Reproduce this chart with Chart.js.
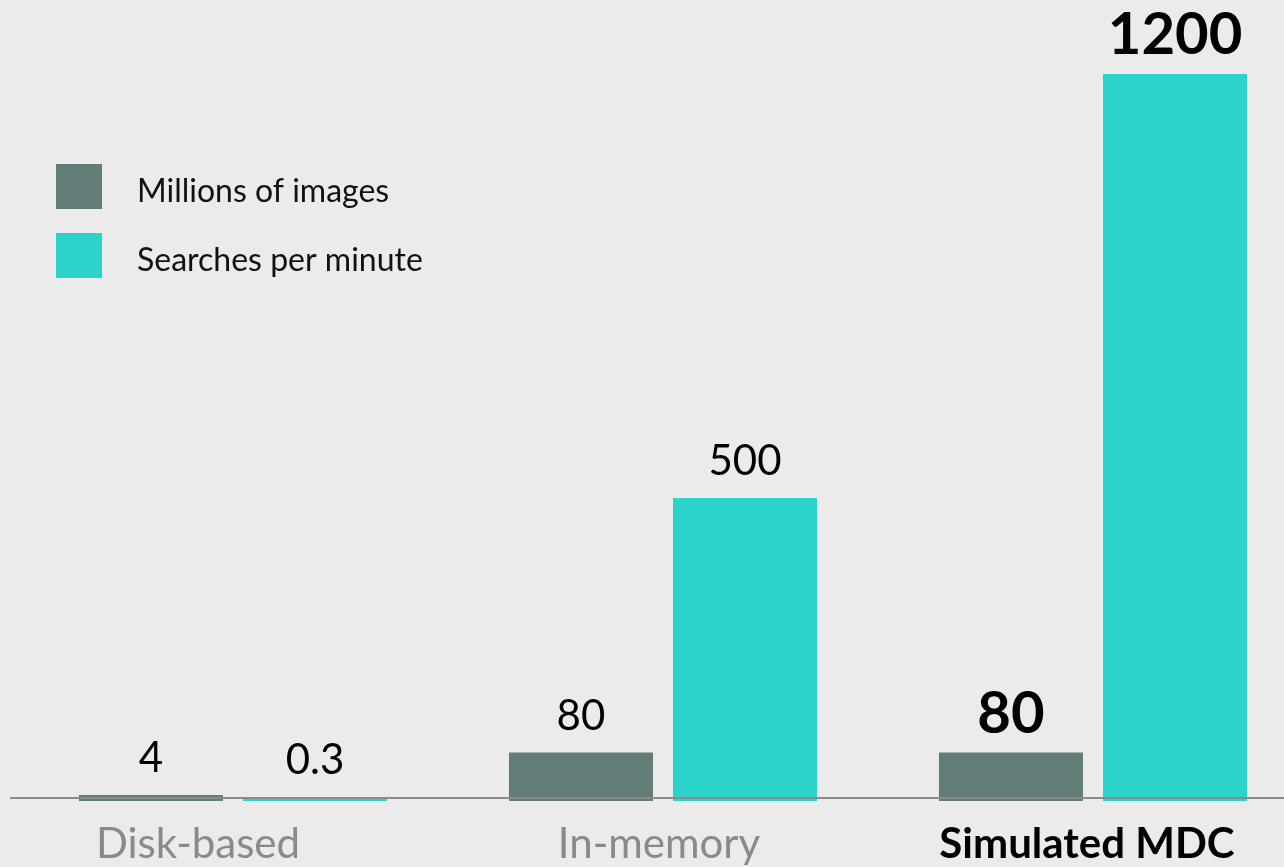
<!DOCTYPE html>
<html>
<head>
<meta charset="utf-8">
<script src="https://cdn.jsdelivr.net/npm/chart.js@4/dist/chart.umd.min.js"></script>
<style>
  html, body { margin: 0; padding: 0; background: #ebebeb; overflow: hidden; }
  #wrap { position: relative; width: 1310px; height: 867px; }
</style>
</head>
<body>
<div id="wrap"><canvas id="chart"></canvas></div>
<script>
/* data */
const categories = ['Disk-based', 'In-memory', 'Simulated MDC'];
const seriesNames = ['Millions of images', 'Searches per minute'];
const millionsOfImages = [4, 80, 80];
const searchesPerMinute = [0.3, 500, 1200];
const valueLabels = [['4', '80', '80'], ['0.3', '500', '1200']];

/* look */
const colors = ['#627d77', '#2bd3ca'];
const FONT = 'Lato, "Open Sans", sans-serif';
const highlight = 2;              // index of the emphasised category
const tickShift = [-35, -4, -6];  // label nudges under each group

const labelsPlugin = {
  id: 'labels',
  afterDatasetsDraw(chart) {
    const ctx = chart.ctx;
    const y = chart.scales.y;
    const x = chart.scales.x;
    const zero = y.getPixelForValue(0);

    // baseline
    ctx.save();
    ctx.strokeStyle = '#8a8a8a';
    ctx.lineWidth = 2;
    ctx.beginPath();
    ctx.moveTo(10, zero - 3);
    ctx.lineTo(chart.width, zero - 3);
    ctx.stroke();

    // value labels
    ctx.textAlign = 'center';
    ctx.textBaseline = 'alphabetic';
    chart.data.datasets.forEach((ds, di) => {
      chart.getDatasetMeta(di).data.forEach((bar, i) => {
        const bold = i === highlight;
        ctx.font = (bold ? 'bold 58px ' : '42px ') + FONT;
        ctx.fillStyle = '#000';
        ctx.fillText(valueLabels[di][i], bar.x, bar.y - (bold ? 20 : 23));
      });
    });

    // category labels
    categories.forEach((c, i) => {
      const bold = i === highlight;
      ctx.font = (bold ? 'bold 42px ' : '42px ') + FONT;
      ctx.fillStyle = bold ? '#000' : '#8a8a8a';
      ctx.fillText(c, x.getPixelForValue(i) + tickShift[i], 858);
    });

    // legend
    ctx.textAlign = 'left';
    ctx.font = '32px ' + FONT;
    chart.data.datasets.forEach((ds, di) => {
      const top = 164 + di * 69;
      ctx.fillStyle = ds.backgroundColor;
      ctx.fillRect(56, top, 46, 45);
      ctx.fillStyle = '#111';
      ctx.fillText(ds.label, 137, top + 38);
    });
    ctx.restore();
  }
};

new Chart(document.getElementById('chart'), {
  type: 'bar',
  data: {
    labels: categories,
    datasets: [
      { label: seriesNames[0], data: millionsOfImages, backgroundColor: colors[0], minBarLength: 6 },
      { label: seriesNames[1], data: searchesPerMinute, backgroundColor: colors[1], minBarLength: 4 }
    ]
  },
  options: {
    responsive: true,
    maintainAspectRatio: false,
    animation: false,
    categoryPercentage: 0.763,
    barPercentage: 0.878,
    layout: { padding: { left: 18, right: 2, top: 0, bottom: 66 } },
    plugins: { legend: { display: false }, tooltip: { enabled: false } },
    scales: {
      x: { display: false },
      y: { display: false, min: 0, max: 1322 }
    }
  },
  plugins: [labelsPlugin]
});
</script>
</body>
</html>
